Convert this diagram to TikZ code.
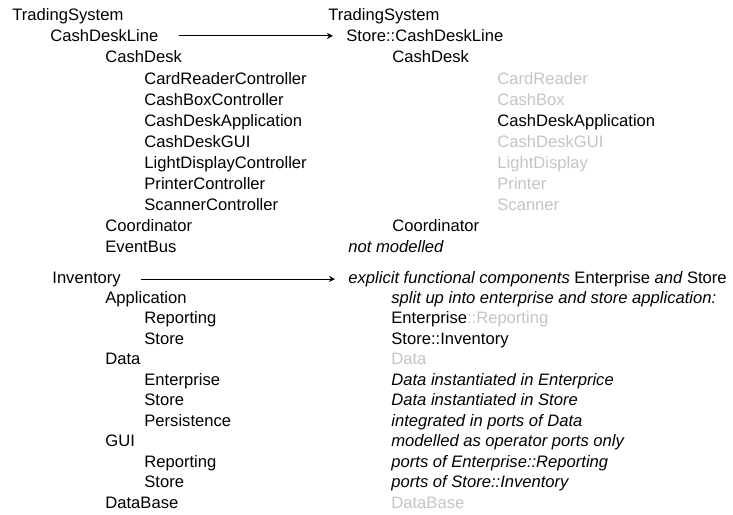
\documentclass[tikz,border=0pt]{standalone}
\usepackage{fontspec}
\setmainfont{Liberation Sans}
\usetikzlibrary{arrows.meta, positioning}
\definecolor{lightGrey}{HTML}{C4C4C4}
\tikzset{
    entry/.style={anchor=base west, inner sep=0pt, font=\fontsize{8.3}{10}\selectfont},
    dropped/.style={entry, text=lightGrey},
    remark/.style={entry, font=\fontsize{8.3}{10}\selectfont\itshape},
    mapsto/.style={-{Stealth[length=3pt, width=3pt]}, line width=0.5pt, shorten <=10pt, shorten >=6.5pt}
}

\begin{document}
\begin{tikzpicture}[x=0.5pt, y=-0.5pt]
        \useasboundingbox (0,0) rectangle (733,514);

        % Left side: original structure
        \node[entry] (tsL) at (12, 20.7) {TradingSystem};
        \node[entry] (cdlL) at (50, 41.8) {CashDeskLine};
        \node[entry] (cdL) at (105, 62.9) {CashDesk};
        \node[entry] (crcL) at (144, 84) {CardReaderController};
        \node[entry] (cbcL) at (144, 105.1) {CashBoxController};
        \node[entry] (cdaL) at (144, 126.2) {CashDeskApplication};
        \node[entry] (cdgL) at (144, 147.3) {CashDeskGUI};
        \node[entry] (ldcL) at (144, 168.4) {LightDisplayController};
        \node[entry] (prcL) at (144, 189.5) {PrinterController};
        \node[entry] (sccL) at (144, 210.6) {ScannerController};
        \node[entry] (coL) at (105, 231.7) {Coordinator};
        \node[entry] (ebL) at (105, 252.8) {EventBus};

        \node[entry] (invL) at (52, 283) {Inventory};
        \node[entry] (appL) at (105, 303.5) {Application};
        \node[entry] (arepL) at (144, 323.9) {Reporting};
        \node[entry] (astoL) at (144, 344.4) {Store};
        \node[entry] (datL) at (105, 364.8) {Data};
        \node[entry] (dentL) at (144, 385.3) {Enterprise};
        \node[entry] (dstoL) at (144, 405.7) {Store};
        \node[entry] (dperL) at (144, 426.2) {Persistence};
        \node[entry] (guiL) at (105, 446.6) {GUI};
        \node[entry] (grepL) at (144, 467.1) {Reporting};
        \node[entry] (gstoL) at (144, 487.5) {Store};
        \node[entry] (dbL) at (105, 508) {DataBase};

        % Right side: modelled structure
        \node[entry] (tsR) at (328, 20.7) {TradingSystem};
        \node[entry] (cdlR) at (346, 41.8) {Store::CashDeskLine};
        \node[entry] (cdR) at (392, 62.9) {CashDesk};
        \node[dropped] (crR) at (497, 84) {CardReader};
        \node[dropped] (cbR) at (497, 105.1) {CashBox};
        \node[entry] (cdaR) at (497, 126.2) {CashDeskApplication};
        \node[dropped] (cdgR) at (497, 147.3) {CashDeskGUI};
        \node[dropped] (ldR) at (497, 168.4) {LightDisplay};
        \node[dropped] (prR) at (497, 189.5) {Printer};
        \node[dropped] (scR) at (497, 210.6) {Scanner};
        \node[entry] (coR) at (392, 231.7) {Coordinator};
        \node[remark] (ebR) at (348, 252.8) {not modelled};

        \node[entry] (invR) at (348, 283) {\itshape explicit functional components \upshape Enterprise \itshape and \upshape Store};
        \node[remark] (appR) at (391, 303.5) {split up into enterprise and store application:};
        \node[entry] (repR) at (391, 323.9) {Enterprise\textcolor{lightGrey}{::Reporting}};
        \node[entry] (stoR) at (391, 344.4) {Store::Inventory};
        \node[dropped] (datR) at (391, 364.8) {Data};
        \node[remark] (dentR) at (391, 385.3) {Data instantiated in Enterprice};
        \node[remark] (dstoR) at (391, 405.7) {Data instantiated in Store};
        \node[remark] (dperR) at (391, 426.2) {integrated in ports of Data};
        \node[remark] (guiR) at (391, 446.6) {modelled as operator ports only};
        \node[remark] (grepR) at (391, 467.1) {ports of Enterprise::Reporting};
        \node[remark] (gstoR) at (391, 487.5) {ports of Store::Inventory};
        \node[dropped] (dbR) at (391, 508) {DataBase};

        % Mappings
        \draw[mapsto] (cdlL.east) -- (cdlL.east -| cdlR.west);
        \draw[mapsto] (invL.east) -- (invL.east -| invR.west);
    \end{tikzpicture}
\end{document}
